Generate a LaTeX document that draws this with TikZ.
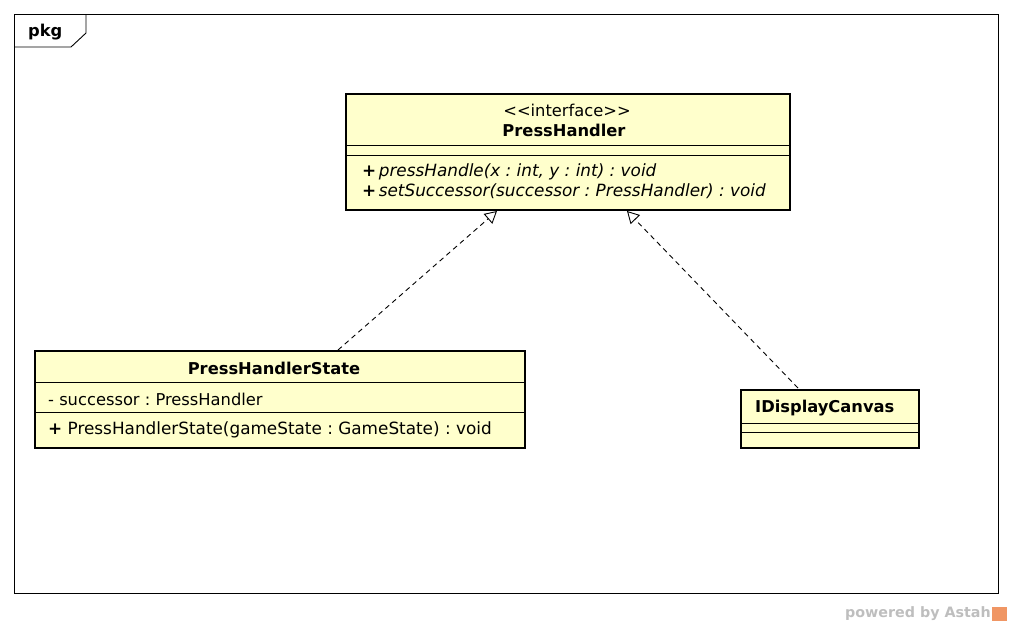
\documentclass[tikz,border=0pt]{standalone}
\usepackage{fontspec}
\setmainfont{DejaVu Sans}
\usetikzlibrary{arrows.meta}
\frenchspacing
\definecolor{classfill}{RGB}{255,255,204}
\definecolor{astahgray}{RGB}{190,190,190}
\definecolor{astahorange}{RGB}{240,150,100}
\tikzset{
  classbox/.style={draw=black, line width=2.6pt, fill=classfill},
  sep/.style={draw=black, line width=0.9pt},
  txt/.style={inner sep=0pt, font=\fontsize{16.3}{19}\selectfont},
  optxt/.style={inner sep=0pt, font=\fontsize{16.85}{19}\selectfont},
  bold/.style={txt, font=\fontsize{16.3}{19}\selectfont\bfseries},
  realize/.style={draw=black, line width=0.9pt, dash pattern=on 5pt off 4pt, -{Triangle[open, length=12pt, width=13pt, line width=0.9pt]}}
}
\begin{document}
\begin{tikzpicture}[x=1pt,y=-1pt]
\useasboundingbox (0,0) rectangle (1012,627);
% frame
\draw[line width=0.9pt] (14,14) rectangle (998,593);
\draw[line width=0.9pt] (86,14) -- (86,33) -- (71,47) -- (14,47);
\node[bold, anchor=west] (pkg) at (28,32) {pkg};

% PressHandler
\path[classbox] (346,94) rectangle (790,210);
\draw[sep] (346,145) -- (790,145);
\draw[sep] (346,155) -- (790,155);
\node[txt] (phst) at (567,110) {{<}{<}interface{>}{>}};
\node[bold] (phn) at (564,130) {PressHandler};
\node[optxt, anchor=west] (op1) at (362,172) {\textbf{+}\hspace{2.5pt}\textit{pressHandle(x : int, y : int) : void}};
\node[optxt, anchor=west] (op2) at (362,191) {\textbf{+}\hspace{2.5pt}\textit{setSuccessor(successor : PressHandler) : void}};

% PressHandlerState
\path[classbox] (35,351) rectangle (525,448);
\draw[sep] (35,382) -- (525,382);
\draw[sep] (35,412) -- (525,412);
\node[bold] (phsn) at (274,368) {PressHandlerState};
\node[txt, anchor=west] (attr) at (48,399) {- successor : PressHandler};
\node[optxt, anchor=west] (op3) at (48,430) {\textbf{+} PressHandlerState(gameState : GameState) : void};

% IDisplayCanvas
\path[classbox] (741,390) rectangle (919,448);
\draw[sep] (741,423) -- (919,423);
\draw[sep] (741,432) -- (919,432);
\node[bold, anchor=west] (idcn) at (755,408) {IDisplayCanvas};

% realizations
\coordinate (s1) at (338,350);
\coordinate (e1) at (497,211);
\coordinate (s2) at (798,388);
\coordinate (e2) at (627,211);
\draw[realize] (s1) -- (e1);
\draw[realize] (s2) -- (e2);

% footer
\node[inner sep=0pt, anchor=east, text=astahgray, font=\fontsize{14.3}{16}\selectfont\bfseries] (pw) at (991,614) {powered by Astah};
\fill[astahorange] (992,607) rectangle (1007,621);
\end{tikzpicture}
\end{document}
